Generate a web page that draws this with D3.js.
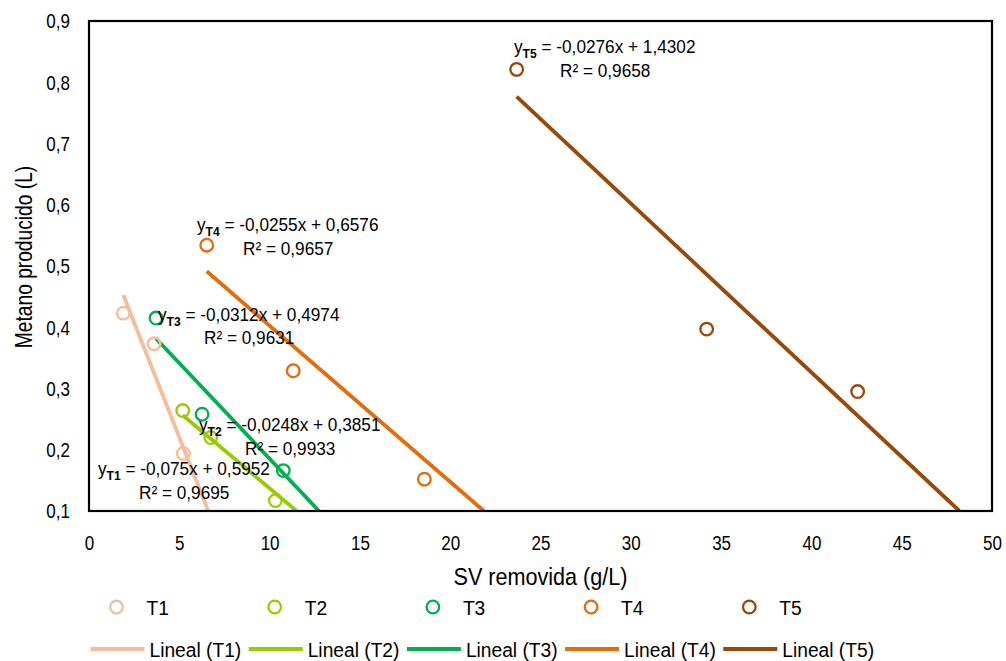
<!DOCTYPE html>
<html>
<head>
<meta charset="utf-8">
<script src="https://cdn.jsdelivr.net/npm/d3@7"></script>
<style>
  body { margin: 0; background: #fff; }
  svg text { font-family: "Liberation Sans", Arial, sans-serif; fill: #000; }
</style>
</head>
<body>
<svg id="chart" width="1006" height="661"></svg>
<script>
// datos
var series = ["T1", "T2", "T3", "T4", "T5"];
var colors = ["#F6BE98", "#99CC00", "#00B050", "#E46C0A", "#984807"];
var svT1 = [1.90, 3.60, 5.22];
var metT1 = [0.423, 0.373, 0.194];
var svT2 = [5.19, 6.74, 10.32];
var metT2 = [0.264, 0.220, 0.117];
var svT3 = [3.71, 6.26, 10.76];
var metT3 = [0.415, 0.258, 0.166];
var svT4 = [6.52, 11.31, 18.57];
var metT4 = [0.534, 0.329, 0.152];
var svT5 = [23.68, 34.20, 42.56];
var metT5 = [0.821, 0.397, 0.295];
// ecuaciones de las lineas de tendencia
var slopes = [-0.075, -0.0248, -0.0312, -0.0255, -0.0276];
var intercepts = [0.5952, 0.3851, 0.4974, 0.6576, 1.4302];
var r2 = ["0,9695", "0,9933", "0,9631", "0,9657", "0,9658"];
var eqText = ["-0,075x + 0,5952", "-0,0248x + 0,3851", "-0,0312x + 0,4974", "-0,0255x + 0,6576", "-0,0276x + 1,4302"];
var xTicks = [0, 5, 10, 15, 20, 25, 30, 35, 40, 45, 50];
var yTicks = [0.1, 0.2, 0.3, 0.4, 0.5, 0.6, 0.7, 0.8, 0.9];

var svX = [svT1, svT2, svT3, svT4, svT5];
var metY = [metT1, metT2, metT3, metT4, metT5];

var mLeft = 89, mRight = 992, mTop = 21, mBottom = 511;
var svg = d3.select("#chart");

var x = d3.scaleLinear().domain([0, 50]).range([mLeft, mRight]);
var y = d3.scaleLinear().domain([0.1, 0.9]).range([mBottom, mTop]);
var fmt = function(d){ return String(d).replace(".", ","); };

// texto estrecho (tipo Arial Narrow)
function narrow(x0, y0, size, sx){
  return svg.append("text")
    .attr("transform", "translate(" + x0 + "," + y0 + ") scale(" + sx + ",1)")
    .attr("font-size", size);
}

svg.append("clipPath").attr("id", "clip")
  .append("rect").attr("x", mLeft).attr("y", mTop).attr("width", mRight - mLeft).attr("height", mBottom - mTop);

// ejes
var tickScale = 0.83;
var gx = svg.append("g").attr("transform", "translate(0," + mBottom + ")")
  .call(d3.axisBottom(x).tickValues(xTicks).tickSize(0).tickPadding(24).tickFormat(fmt));
gx.select(".domain").remove();
gx.selectAll("text").attr("font-size", 20.5).style("font-family", null)
  .attr("transform", "scale(" + tickScale + ",1)");

var gy = svg.append("g").attr("transform", "translate(" + mLeft + ",0)")
  .call(d3.axisLeft(y).tickValues(yTicks).tickSize(0).tickFormat(fmt));
gy.select(".domain").remove();
gy.selectAll("text").attr("font-size", 20.5).style("font-family", null)
  .attr("x", -19 / tickScale).attr("dy", "0.34em")
  .attr("transform", "scale(" + tickScale + ",1)");

narrow((mLeft + mRight) / 2, 585, 24, 0.9).attr("text-anchor", "middle").text("SV removida (g/L)");
svg.append("text").attr("transform", "translate(32,257) rotate(-90) scale(0.8,1)")
  .attr("text-anchor", "middle").attr("font-size", 24).text("Metano producido (L)");

// lineas de tendencia
var plot = svg.append("g").attr("clip-path", "url(#clip)");
series.forEach(function(s, i){
  var x0 = d3.min(svX[i]);
  var x1 = (0.1 - intercepts[i]) / slopes[i];
  plot.append("line")
    .attr("x1", x(x0)).attr("y1", y(slopes[i] * x0 + intercepts[i]))
    .attr("x2", x(x1)).attr("y2", y(slopes[i] * x1 + intercepts[i]))
    .attr("stroke", colors[i]).attr("stroke-width", 3.8);
});

// puntos
series.forEach(function(s, i){
  plot.selectAll(".p" + s)
    .data(svX[i].map(function(v, j){ return [v, metY[i][j]]; }))
    .enter().append("circle")
    .attr("cx", function(d){ return x(d[0]); })
    .attr("cy", function(d){ return y(d[1]); })
    .attr("r", 6.3)
    .attr("fill", "none")
    .attr("stroke", colors[i])
    .attr("stroke-width", 2.3);
});

// marco
svg.append("rect").attr("x", mLeft).attr("y", mTop).attr("width", mRight - mLeft).attr("height", mBottom - mTop)
  .attr("fill", "none").attr("stroke", "#000").attr("stroke-width", 2.2);

// etiquetas de ecuaciones
var eqPos = [[98, 475, 139, 499], [199, 431, 245, 455], [158, 321, 204, 344], [197, 231, 243, 255], [514, 53, 560, 77]];
series.forEach(function(s, i){
  var t = narrow(eqPos[i][0], eqPos[i][1], 18.5, 0.93);
  t.append("tspan").text("y");
  t.append("tspan").attr("dy", 5).attr("font-size", 13).attr("font-weight", "bold").text(s);
  t.append("tspan").attr("dy", -5).text(" = " + eqText[i]);
  narrow(eqPos[i][2], eqPos[i][3], 18.5, 0.93).text("R\u00B2 = " + r2[i]);
});

// leyenda
var step = 158.2;
series.forEach(function(s, i){
  var cx = 116.5 + i * step;
  svg.append("circle").attr("cx", cx).attr("cy", 607).attr("r", 6.3)
    .attr("fill", "none").attr("stroke", colors[i]).attr("stroke-width", 2.3);
  narrow(cx + 30, 615, 20, 0.96).text(s);
  var lx = 90.5 + i * step;
  svg.append("line").attr("x1", lx).attr("x2", lx + 54).attr("y1", 649).attr("y2", 649)
    .attr("stroke", colors[i]).attr("stroke-width", 3.8);
  narrow(lx + 59, 657, 20, 0.96).text("Lineal (" + s + ")");
});
</script>
</body>
</html>
